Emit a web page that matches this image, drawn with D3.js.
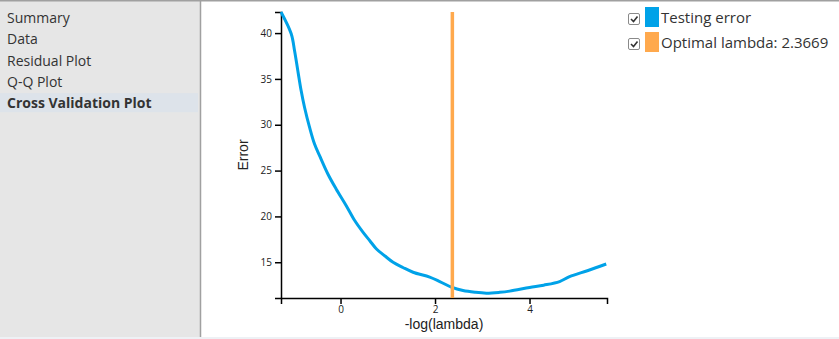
<!DOCTYPE html>
<html>
<head>
<meta charset="utf-8">
<script src="https://cdn.jsdelivr.net/npm/d3@7"></script>
<style>
  html, body { margin: 0; padding: 0; background: #fff; }
  svg { display: block; }
</style>
</head>
<body>
<svg id="chart" width="839" height="339"></svg>
<script>
// ---- data ----
const navItems = ["Summary", "Data", "Residual Plot", "Q-Q Plot", "Cross Validation Plot"];
const selectedNav = "Cross Validation Plot";
const logLambda = [-1.26, -1.044, -0.972, -0.903, -0.833, -0.761, -0.655, -0.55, -0.444, -0.268, -0.093, 0.118, 0.30, 0.478, 0.62, 0.761, 0.94, 1.112, 1.32, 1.535, 1.888, 2.10, 2.347, 2.592, 2.85, 3.087, 3.368, 3.579, 4.002, 4.30, 4.636, 4.847, 5.24, 5.624];
const testingError = [42.3, 39.92, 38.04, 35.87, 33.70, 31.88, 29.71, 27.89, 26.63, 24.63, 23.0, 21.2, 19.55, 18.26, 17.35, 16.45, 15.68, 15.0, 14.43, 13.91, 13.37, 12.89, 12.28, 11.91, 11.72, 11.63, 11.72, 11.85, 12.25, 12.5, 12.89, 13.43, 14.1, 14.81];
const optimalLambda = 2.3669;
const xDomain = [-1.26, 5.64];
const yDomain = [11.1, 42.3];
const xTicks = [0, 2, 4];
const yTicks = [15, 20, 25, 30, 35, 40];
const legendLabels = ["Testing error", "Optimal lambda: " + optimalLambda];
const colors = ["#00a2e8", "#ffa94d"];

(function () {
const svg = d3.select("#chart");
const W = 839, H = 339;

// ---- page chrome ----
svg.append("rect").attr("x", 0).attr("y", 0).attr("width", 200).attr("height", 337).attr("fill", "#e6e6e6");
svg.append("rect").attr("x", 0).attr("y", 337).attr("width", W).attr("height", 2).attr("fill", "#eef1f5");
svg.append("line").attr("x1", 0).attr("x2", W).attr("y1", 0.5).attr("y2", 0.5).attr("stroke", "#a0a0a0").attr("stroke-width", 2);
svg.append("line").attr("x1", 200.5).attr("x2", 200.5).attr("y1", 0).attr("y2", 337).attr("stroke", "#a0a0a0").attr("stroke-width", 1.5);

const nav = svg.append("g");
navItems.forEach((t, i) => {
  const yy = 23 + i * 21.3;
  if (t === selectedNav) {
    nav.append("rect").attr("x", 0).attr("y", yy - 15).attr("width", 198).attr("height", 19).attr("fill", "#dde3ea");
  }
  nav.append("text").attr("x", 7).attr("y", yy)
    .attr("font-family", "Open Sans").attr("font-size", 14)
    .attr("font-weight", t === selectedNav ? "bold" : "normal")
    .attr("fill", "#333").text(t);
});

// ---- chart ----
const pLeft = 281, pRight = 607, pTop = 12, pBottom = 298;
const x = d3.scaleLinear().domain(xDomain).range([pLeft, pRight]);
const y = d3.scaleLinear().domain(yDomain).range([pBottom, pTop]);

const xAxis = svg.append("g").attr("transform", `translate(0,${pBottom})`)
  .call(d3.axisBottom(x).tickValues(xTicks).tickSize(6).tickPadding(2).tickFormat(d3.format("d")));
const yAxis = svg.append("g").attr("transform", `translate(${pLeft},0)`)
  .call(d3.axisLeft(y).tickValues(yTicks).tickSize(6).tickPadding(3).tickFormat(d3.format("d")));
[xAxis, yAxis].forEach(a => {
  a.selectAll("text").attr("font-family", "Open Sans").attr("font-size", 10).attr("fill", "#222");
  a.selectAll("path, line").attr("stroke", "#000").attr("stroke-width", 1.5);
});

svg.append("text").attr("x", (pLeft + pRight) / 2).attr("y", 329).attr("text-anchor", "middle")
  .attr("font-family", "Liberation Sans").attr("font-size", 14).attr("fill", "#222").text("-log(lambda)");
svg.append("text").attr("transform", `translate(248,${(pTop + pBottom) / 2}) rotate(-90)`).attr("text-anchor", "middle")
  .attr("font-family", "Liberation Sans").attr("font-size", 14).attr("fill", "#222").text("Error");

const data = logLambda.map((v, i) => ({ x: v, y: testingError[i] }));
svg.append("path").datum(data)
  .attr("fill", "none").attr("stroke", colors[0]).attr("stroke-width", 3)
  .attr("stroke-linejoin", "round")
  .attr("d", d3.line().x(d => x(d.x)).y(d => y(d.y)).curve(d3.curveCatmullRom.alpha(0.5)));

svg.append("line").attr("x1", x(optimalLambda)).attr("x2", x(optimalLambda))
  .attr("y1", pTop).attr("y2", pBottom).attr("stroke", colors[1]).attr("stroke-width", 3.5);

// ---- legend ----
const lg = svg.append("g");
legendLabels.forEach((t, i) => {
  const yy = 7 + i * 25;
  lg.append("rect").attr("x", 628.5).attr("y", yy + 6.5).attr("width", 11).attr("height", 11)
    .attr("rx", 1.5).attr("fill", "#fff").attr("stroke", "#8a8a8a");
  lg.append("path").attr("d", `M631,${yy + 12} L633.5,${yy + 14.5} L637.5,${yy + 9.5}`)
    .attr("fill", "none").attr("stroke", "#333").attr("stroke-width", 1.6);
  lg.append("rect").attr("x", 645).attr("y", yy).attr("width", 14).attr("height", 20).attr("fill", colors[i]);
  lg.append("text").attr("x", 661).attr("y", yy + 16).attr("font-family", "Open Sans").attr("font-size", 15)
    .attr("fill", "#333").text(t);
});
})();
</script>
</body>
</html>
